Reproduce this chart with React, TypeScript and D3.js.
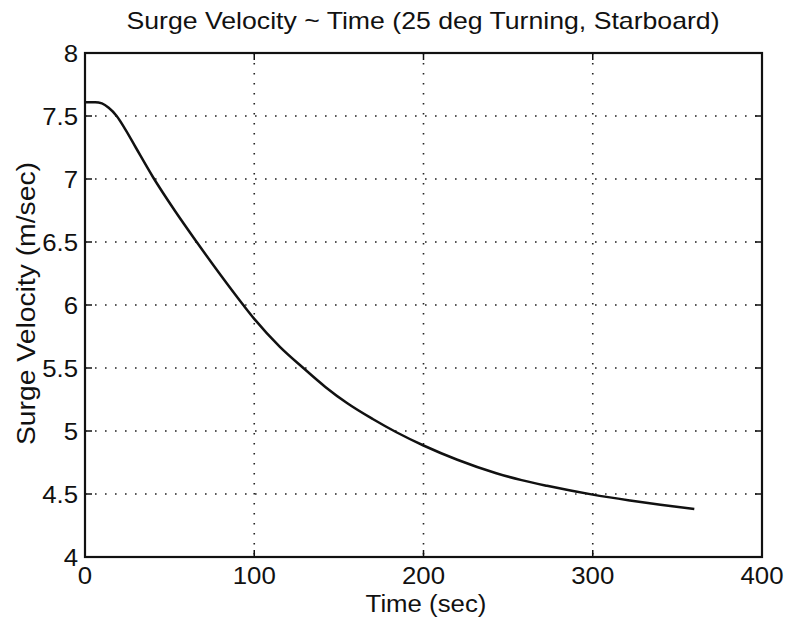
import React from "react";
import * as d3 from "d3";

const timeSec = [0, 6, 10, 14, 18.7, 24, 30, 40.4, 53, 66, 80, 93.5, 100, 115, 129, 142, 155, 170, 184, 200, 220, 243, 258, 273, 300, 322, 340, 360];
const surgeVel = [7.61, 7.61, 7.6, 7.565, 7.5, 7.39, 7.25, 7.01, 6.75, 6.5, 6.24, 6.0, 5.89, 5.67, 5.5, 5.35, 5.22, 5.095, 4.99, 4.885, 4.772, 4.665, 4.61, 4.565, 4.495, 4.449, 4.415, 4.381];
const xTicks = [0, 100, 200, 300, 400];
const yTicks = [4, 4.5, 5, 5.5, 6, 6.5, 7, 7.5, 8];
const titleText = "Surge Velocity ~ Time (25 deg Turning, Starboard)";
const xLabel = "Time (sec)";
const yLabel = "Surge Velocity (m/sec)";

const W = 787, H = 622;
const L = 85, R = 762, T = 53, B = 557;
const FONT = "'Liberation Sans', Arial, Helvetica, sans-serif";
const FS = 24;
const SX = 1.075;

export default function App() {
  const x = d3.scaleLinear().domain([0, 400]).range([L, R]);
  const y = d3.scaleLinear().domain([4, 8]).range([B, T]);
  const pts = timeSec.map((t, i) => [t, surgeVel[i]] as [number, number]);
  const line = d3.line<[number, number]>().x(d => x(d[0])).y(d => y(d[1])).curve(d3.curveMonotoneX);
  const tickLen = 7;
  const txt = (key: string, tx: number, ty: number, s: string, anchor: string) => (
    <g key={key} transform={`translate(${tx},${ty}) scale(${SX},1)`}>
      <text x={0} y={0} textAnchor={anchor} fontFamily={FONT} fontSize={FS} fill="#111">{s}</text>
    </g>
  );
  return (
    <div style={{ position: "absolute", left: 0, top: 0 }}>
      <svg width={W} height={H} style={{ display: "block", background: "#fff" }}>
        <rect x={0} y={0} width={W} height={H} fill="#fff" />
        {xTicks.slice(1, -1).map(t => (
          <line key={"gx" + t} x1={x(t)} x2={x(t)} y1={T} y2={B} stroke="#222" strokeWidth={1.6} strokeDasharray="1.6,8.4" />
        ))}
        {yTicks.slice(1, -1).map(v => (
          <line key={"gy" + v} x1={L} x2={R} y1={y(v)} y2={y(v)} stroke="#222" strokeWidth={1.6} strokeDasharray="1.6,8.4" />
        ))}
        {xTicks.map(t => (
          <g key={"tx" + t}>
            <line x1={x(t)} x2={x(t)} y1={B} y2={B - tickLen} stroke="#111" strokeWidth={1.5} />
            <line x1={x(t)} x2={x(t)} y1={T} y2={T + tickLen} stroke="#111" strokeWidth={1.5} />
          </g>
        ))}
        {yTicks.map(v => (
          <g key={"ty" + v}>
            <line x1={L} x2={L + tickLen} y1={y(v)} y2={y(v)} stroke="#111" strokeWidth={1.5} />
            <line x1={R} x2={R - tickLen} y1={y(v)} y2={y(v)} stroke="#111" strokeWidth={1.5} />
          </g>
        ))}
        <rect x={L} y={T} width={R - L} height={B - T} fill="none" stroke="#111" strokeWidth={2.2} />
        <path d={line(pts) || ""} fill="none" stroke="#111" strokeWidth={2.5} />
        {xTicks.map(t => txt("lx" + t, x(t), 584, String(t), "middle"))}
        {yTicks.map(v => txt("ly" + v, L - 7, y(v) + 8.5, String(v), "end"))}
        <text x={(L + R) / 2 - 0.5} y={29} textAnchor="middle" fontFamily={FONT} fontSize={FS} fill="#111" textLength={593} lengthAdjust="spacingAndGlyphs">{titleText}</text>
        {txt("xl", 426, 612, xLabel, "middle")}
        <text transform="translate(35,303.5) rotate(-90)" x={0} y={0} textAnchor="middle" fontFamily={FONT} fontSize={25} fill="#111" textLength={283} lengthAdjust="spacingAndGlyphs">{yLabel}</text>
      </svg>
    </div>
  );
}
